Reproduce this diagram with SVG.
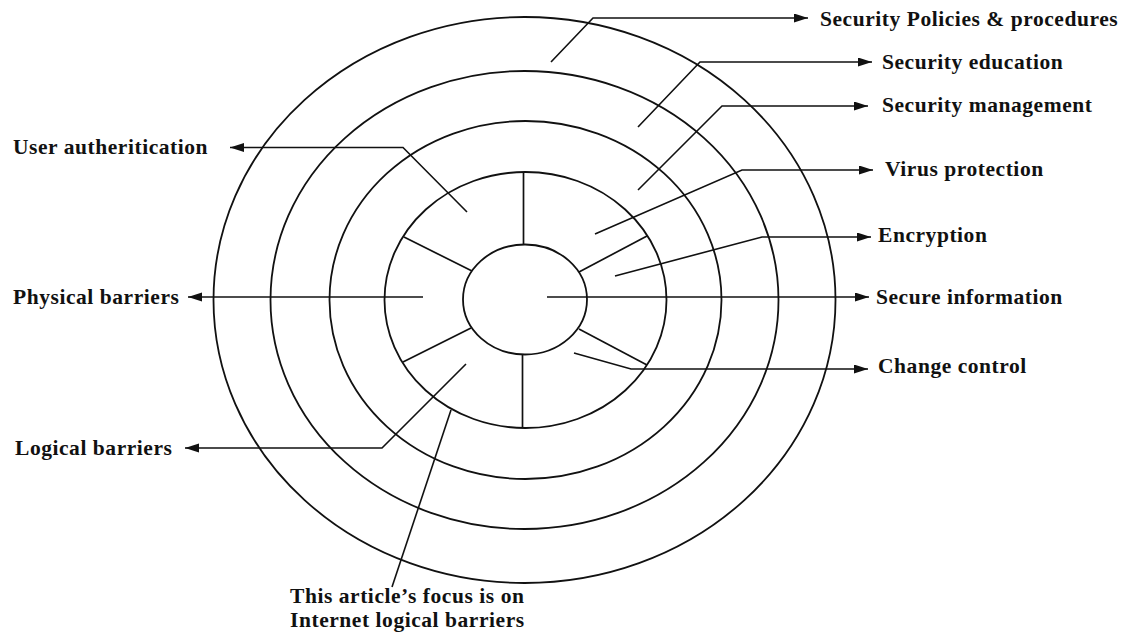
<svg xmlns="http://www.w3.org/2000/svg" width="1128" height="633" viewBox="0 0 1128 633">
  <defs>
    <marker id="arrow" markerUnits="userSpaceOnUse" markerWidth="15" markerHeight="10" refX="14" refY="4.5" orient="auto">
      <path d="M0,0 L14,4.5 L0,9 z" fill="#111"/>
    </marker>
  </defs>
  <style>
    .ring { fill: none; stroke: #111; stroke-width: 1.8; }
    .spoke { fill: none; stroke: #111; stroke-width: 1.7; }
    .conn { fill: none; stroke: #111; stroke-width: 1.6; }
    .arr { marker-end: url(#arrow); }
    .lbl { font-family: "Liberation Serif", "Times New Roman", serif; font-weight: bold; font-size: 21.5px; letter-spacing: 0.55px; fill: #111; }
  </style>
  <rect width="1128" height="633" fill="#fff"/>

  <g id="rings">
    <ellipse id="ring-outer" class="ring" cx="524.5" cy="300" rx="311" ry="283"/>
    <ellipse id="ring-4" class="ring" cx="524.5" cy="300" rx="254" ry="229"/>
    <ellipse id="ring-3" class="ring" cx="525.5" cy="300" rx="196" ry="179"/>
    <ellipse id="ring-2" class="ring" cx="525.5" cy="300" rx="141" ry="128"/>
    <ellipse id="core" class="ring" cx="525" cy="299.5" rx="62" ry="55"/>
  </g>

  <g id="spokes">
    <line class="spoke" x1="523.5" y1="172" x2="523.5" y2="245"/>
    <line class="spoke" x1="522.5" y1="354" x2="522.5" y2="428"/>
    <line class="spoke" x1="404" y1="237" x2="472" y2="271"/>
    <line class="spoke" x1="471" y1="328" x2="403" y2="362"/>
    <line class="spoke" x1="579" y1="272" x2="647" y2="236"/>
    <line class="spoke" x1="579" y1="329" x2="647" y2="365"/>
  </g>

  <g id="connectors">
    <polyline class="conn arr" points="551,62 593,18 808,18"/>
    <polyline class="conn arr" points="638,127 700,62 872,62"/>
    <polyline class="conn arr" points="638,190 722,106 868,106"/>
    <polyline class="conn arr" points="595,234 742,170 873,170"/>
    <polyline class="conn arr" points="615,276 762,237 871,237"/>
    <polyline class="conn arr" points="547,297 869,297"/>
    <polyline class="conn arr" points="574,353 631,369 868,369"/>
    <polyline class="conn arr" points="467,212 403,147.5 230,147.5"/>
    <polyline class="conn arr" points="423,297 188,297"/>
    <polyline class="conn arr" points="466,364 382,448 185,448"/>
    <line class="conn" x1="451" y1="410" x2="392" y2="587"/>
  </g>

  <g id="label-policies"><text class="lbl" x="820" y="26">Security Policies &amp; procedures</text></g>
  <g id="label-education"><text class="lbl" x="882" y="68.5">Security education</text></g>
  <g id="label-management"><text class="lbl" x="882" y="112">Security management</text></g>
  <g id="label-virus"><text class="lbl" x="885" y="176">Virus protection</text></g>
  <g id="label-encryption"><text class="lbl" x="878" y="242">Encryption</text></g>
  <g id="label-secure"><text class="lbl" x="876" y="304">Secure information</text></g>
  <g id="label-change"><text class="lbl" x="878" y="373">Change control</text></g>
  <g id="label-user"><text class="lbl" x="13" y="154">User autheritication</text></g>
  <g id="label-physical"><text class="lbl" x="13" y="304">Physical barriers</text></g>
  <g id="label-logical"><text class="lbl" x="15" y="455">Logical barriers</text></g>
  <g id="label-focus">
    <text class="lbl" x="290" y="603">This article’s focus is on</text>
    <text class="lbl" x="290" y="627">Internet logical barriers</text>
  </g>
</svg>
